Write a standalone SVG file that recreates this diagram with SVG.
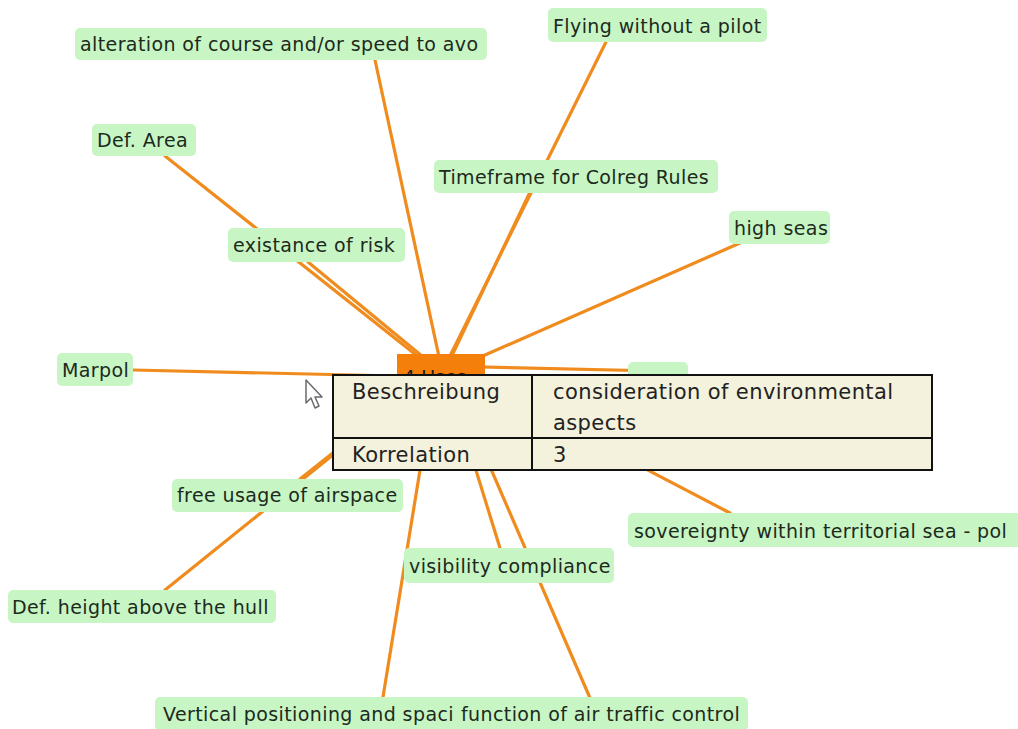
<svg xmlns="http://www.w3.org/2000/svg" width="1018" height="729" viewBox="0 0 1018 729">
  <style>
    .edge { stroke: #f08c1e; stroke-width: 3.2; stroke-linecap: round; fill: none; }
    .node rect { fill: #c8f5c4; }
    .node text { font-family: "DejaVu Sans", Verdana, sans-serif; font-size: 19px; letter-spacing: 0.4px; fill: #1c2a1c; dominant-baseline: central; }
    .hub rect { fill: #f47f0a; }
    .hub text { font-family: "DejaVu Sans", Verdana, sans-serif; font-size: 19px; fill: #1c1c1c; dominant-baseline: central; }
    .tip rect { fill: #f4f1dc; stroke: #111; stroke-width: 2; }
    .tip line { stroke: #111; stroke-width: 2; }
    .tip text { font-family: "DejaVu Sans", Tahoma, sans-serif; font-size: 21px; letter-spacing: 0.4px; fill: #222; }
  </style>
  <rect width="1018" height="729" fill="#ffffff"/>

  <!-- connectors: every leaf is linked to the hub -->
  <g id="connectors">
    <line class="edge" x1="375" y1="60" x2="441" y2="366"/>
    <line class="edge" x1="606" y1="42" x2="445" y2="366"/>
    <line class="edge" x1="530" y1="192" x2="447" y2="366"/>
    <line class="edge" x1="165" y1="156" x2="430" y2="366"/>
    <line class="edge" x1="308" y1="262" x2="434" y2="366"/>
    <line class="edge" x1="740" y1="243" x2="460" y2="366"/>
    <line class="edge" x1="133" y1="370" x2="441" y2="377"/>
    <line class="edge" x1="658" y1="371" x2="441" y2="366"/>
    <line class="edge" x1="300" y1="479" x2="430" y2="376"/>
    <line class="edge" x1="165" y1="590" x2="436" y2="372"/>
    <line class="edge" x1="730" y1="513" x2="460" y2="372"/>
    <line class="edge" x1="500" y1="548" x2="445" y2="370"/>
    <line class="edge" x1="590" y1="698" x2="449" y2="372"/>
    <line class="edge" x1="383" y1="697" x2="436" y2="372"/>
  </g>

  <!-- leaf nodes -->
  <g id="n-alteration" class="node"><rect x="75" y="28" width="412" height="32" rx="5"/><text x="80" y="44">alteration of course and/or speed to avo</text></g>
  <g id="n-flying" class="node"><rect x="548" y="8" width="219" height="34" rx="5"/><text x="553" y="26">Flying without a pilot</text></g>
  <g id="n-defarea" class="node"><rect x="92" y="124" width="104" height="32" rx="5"/><text x="97" y="140">Def. Area</text></g>
  <g id="n-timeframe" class="node"><rect x="434" y="160" width="284" height="33" rx="5"/><text x="439" y="177">Timeframe for Colreg Rules</text></g>
  <g id="n-existance" class="node"><rect x="228" y="228" width="177" height="34" rx="5"/><text x="233" y="245">existance of risk</text></g>
  <g id="n-highseas" class="node"><rect x="729" y="211" width="101" height="33" rx="5"/><text x="734" y="228">high seas</text></g>
  <g id="n-marpol" class="node"><rect x="57" y="353" width="76" height="33" rx="5"/><text x="62" y="370">Marpol</text></g>
  <g id="n-small" class="node"><rect x="628" y="362" width="60" height="22" rx="5"/></g>
  <g id="n-airspace" class="node"><rect x="172" y="479" width="231" height="33" rx="5"/><text x="177" y="495">free usage of airspace</text></g>
  <g id="n-hull" class="node"><rect x="8" y="590" width="268" height="33" rx="5"/><text x="12" y="607">Def. height above the hull</text></g>
  <g id="n-sovereignty" class="node"><rect x="628" y="513" width="395" height="34" rx="5"/><text x="634" y="531">sovereignty within territorial sea - pol</text></g>
  <g id="n-visibility" class="node"><rect x="404" y="548" width="210" height="35" rx="5"/><text x="409" y="566">visibility compliance</text></g>
  <g id="n-vertical" class="node"><rect x="155" y="697" width="330" height="34" rx="5"/><text x="163" y="714">Vertical positioning and spaci</text></g>
  <g id="n-atc" class="node"><rect x="455" y="697" width="293" height="34" rx="5"/><text x="461" y="714">function of air traffic control</text></g>

  <!-- hub node (its label is mostly covered by the tooltip) -->
  <g id="n-hub" class="hub"><rect x="397" y="354" width="88" height="24"/><text x="403" y="377">4 Uses</text></g>

  <!-- hover tooltip -->
  <g id="tooltip" class="tip">
    <rect x="333" y="375" width="599" height="95"/>
    <line x1="333" y1="438" x2="932" y2="438"/>
    <line x1="532" y1="375" x2="532" y2="470"/>
    <text x="352" y="399">Beschreibung</text>
    <text x="553" y="399">consideration of environmental</text>
    <text x="553" y="430">aspects</text>
    <text x="352" y="462">Korrelation</text>
    <text x="553" y="462">3</text>
  </g>

  <!-- mouse pointer -->
  <g id="cursor">
    <path d="M306 380 L306 403 L311 398 L315 408 L319 406 L315 397 L322 397 Z" fill="#ffffff" stroke="#6a6a6a" stroke-width="1.5" stroke-linejoin="round"/>
  </g>
</svg>
